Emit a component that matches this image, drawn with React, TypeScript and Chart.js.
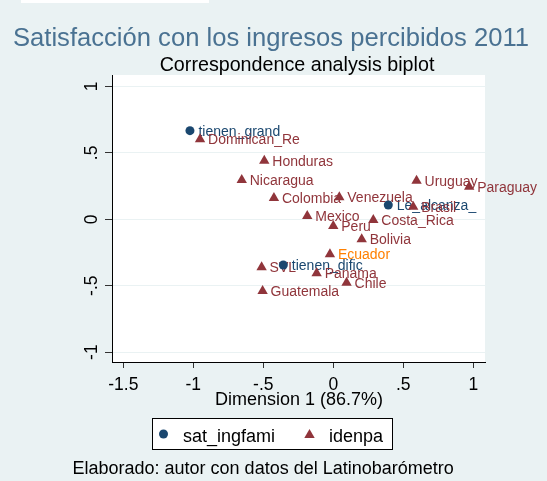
import React, { useEffect, useRef } from "react";
import { Chart, registerables } from "chart.js";

Chart.register(...registerables);

// ---- data ----
const rowLabels = ["tienen_grand", "Le_alcanza_", "tienen_dific"];
const rowDim1 = [-1.024, 0.393, -0.357];
const rowDim2 = [0.667, 0.108, -0.344];

const countryLabels = [
  "Dominican_Re", "Honduras", "Nicaragua", "Colombia", "Venezuela", "Uruguay",
  "Paraguay", "Brasil", "Mexico", "Peru", "Costa_Rica", "Bolivia", "Ecuador",
  "Panama", "Chile", "SVL", "Guatemala",
];
const countryDim1 = [
  -0.952, -0.493, -0.654, -0.424, 0.043, 0.595,
  0.971, 0.571, -0.186, 0.0, 0.286, 0.203, -0.024,
  -0.119, 0.095, -0.512, -0.505,
];
const countryDim2 = [
  0.602, 0.441, 0.296, 0.16, 0.166, 0.29,
  0.245, 0.095, 0.025, -0.05, -0.005, -0.15, -0.263,
  -0.406, -0.477, -0.361, -0.54,
];

const xTickValues = [-1.5, -1, -0.5, 0, 0.5, 1];
const xTickLabels = ["-1.5", "-1", "-.5", "0", ".5", "1"];
const yTickValues = [-1, -0.5, 0, 0.5, 1];
const yTickLabels = ["-1", "-.5", "0", ".5", "1"];

const seriesNames = ["sat_ingfami", "idenpa"];
const chartTitle = "Satisfacción con los ingresos percibidos 2011";
const chartSubtitle = "Correspondence analysis biplot";
const xAxisTitle = "Dimension 1 (86.7%)";
const footnote = "Elaborado: autor con datos del Latinobarómetro";
const highlightedCountry = "Ecuador";

// ---- styles ----
const FONT = '"Liberation Sans", Arial, Helvetica, sans-serif';
const BG = "#eaf2f3";
const NAVY = "#1a476f";
const MAROON = "#90353b";
const ORANGE = "#ff8000";
const TITLE_COLOR = "#4a7292";

function drawTriangle(ctx: CanvasRenderingContext2D, x: number, y: number, r: number) {
  ctx.beginPath();
  ctx.moveTo(x, y - r);
  ctx.lineTo(x + r * 0.866, y + r / 2);
  ctx.lineTo(x - r * 0.866, y + r / 2);
  ctx.closePath();
  ctx.fill();
}

const decorPlugin = {
  id: "decor",
  beforeDraw(chart: any) {
    const { ctx, chartArea: a, width, height } = chart;
    ctx.save();
    ctx.fillStyle = BG;
    ctx.fillRect(0, 0, width, height);
    ctx.fillStyle = "#ffffff";
    ctx.fillRect(21, 0, 188, 3);
    ctx.fillRect(a.left, a.top, a.right - a.left, a.bottom - a.top);
    ctx.restore();
  },
  beforeDatasetsDraw(chart: any) {
    // labels of the row points sit underneath all markers
    const { ctx } = chart;
    ctx.save();
    ctx.font = `14px ${FONT}`;
    ctx.textAlign = "left";
    ctx.textBaseline = "alphabetic";
    ctx.fillStyle = NAVY;
    const m0 = chart.getDatasetMeta(0);
    m0.data.forEach((pt: any, i: number) => {
      ctx.fillText(rowLabels[i], pt.x + 8.5, pt.y + 5);
    });
    ctx.restore();
  },
  afterDatasetDraw(chart: any, args: any) {
    if (args.index !== 1) return;
    const { ctx } = chart;
    ctx.save();
    ctx.font = `14px ${FONT}`;
    ctx.textAlign = "left";
    ctx.textBaseline = "alphabetic";
    const m1 = chart.getDatasetMeta(1);
    m1.data.forEach((pt: any, i: number) => {
      const lab = countryLabels[i];
      ctx.fillStyle = lab === highlightedCountry ? ORANGE : MAROON;
      ctx.fillText(lab, pt.x + 8, pt.y + 5);
    });
    ctx.restore();
  },
  afterDraw(chart: any) {
    const { ctx } = chart;
    const xs = chart.scales.x;
    const ys = chart.scales.y;
    ctx.save();

    // titles
    ctx.textBaseline = "alphabetic";
    ctx.textAlign = "center";
    ctx.fillStyle = TITLE_COLOR;
    ctx.font = `25.6px ${FONT}`;
    ctx.fillText(chartTitle, 271, 45.5);
    ctx.fillStyle = "#000";
    ctx.font = `19.7px ${FONT}`;
    ctx.fillText(chartSubtitle, 297, 70.5);

    // x tick labels
    ctx.font = `17.5px ${FONT}`;
    ctx.fillStyle = "#000";
    xTickValues.forEach((v, i) => {
      ctx.fillText(xTickLabels[i], xs.getPixelForValue(v), 390);
    });
    // y tick labels (rotated)
    yTickValues.forEach((v, i) => {
      ctx.save();
      ctx.translate(97, ys.getPixelForValue(v));
      ctx.rotate(-Math.PI / 2);
      ctx.textAlign = "center";
      ctx.fillText(yTickLabels[i], 0, 0);
      ctx.restore();
    });

    // x axis title
    ctx.font = `18px ${FONT}`;
    ctx.textAlign = "center";
    ctx.fillText(xAxisTitle, 299, 405);

    // legend
    ctx.fillStyle = "#ffffff";
    ctx.fillRect(152, 418, 241, 32);
    ctx.strokeStyle = "#000";
    ctx.lineWidth = 1;
    ctx.strokeRect(152.5, 418.5, 240, 31);
    ctx.fillStyle = NAVY;
    ctx.beginPath();
    ctx.arc(163.5, 434, 4.5, 0, Math.PI * 2);
    ctx.fill();
    ctx.fillStyle = MAROON;
    drawTriangle(ctx, 309.5, 435, 6);
    ctx.fillStyle = "#000";
    ctx.font = `18px ${FONT}`;
    ctx.textAlign = "left";
    ctx.fillText(seriesNames[0], 183, 441.5);
    ctx.fillText(seriesNames[1], 329, 441.5);

    // footnote
    ctx.fillText(footnote, 72.5, 474);

    ctx.restore();
  },
};

export default function App() {
  const ref = useRef<HTMLCanvasElement | null>(null);
  useEffect(() => {
    document.body.style.margin = "0";
    const canvas = ref.current;
    if (!canvas) return;
    const chart = new Chart(canvas, {
      type: "scatter",
      data: {
        datasets: [
          {
            label: seriesNames[0],
            data: rowDim1.map((x, i) => ({ x, y: rowDim2[i] })),
            pointStyle: "circle",
            pointRadius: 4.5,
            pointBackgroundColor: NAVY,
            pointBorderWidth: 0,
            borderColor: NAVY,
            backgroundColor: NAVY,
          },
          {
            label: seriesNames[1],
            data: countryDim1.map((x, i) => ({ x, y: countryDim2[i] })),
            pointStyle: "triangle",
            pointRadius: 6,
            pointBackgroundColor: MAROON,
            pointBorderWidth: 0,
            borderColor: MAROON,
            backgroundColor: MAROON,
          },
        ],
      },
      options: {
        responsive: false,
        animation: false,
        devicePixelRatio: 1,
        layout: { padding: { left: 0, top: 75, right: 62, bottom: 109 } },
        plugins: {
          legend: { display: false },
          title: { display: false },
          tooltip: { enabled: false },
        },
        scales: {
          x: {
            type: "linear",
            min: -1.581,
            max: 1.084,
            afterBuildTicks: (s: any) => {
              s.ticks = xTickValues.map((value) => ({ value }));
            },
            afterFit: (s: any) => {
              s.height = 10;
            },
            ticks: { display: false },
            grid: {
              drawOnChartArea: false,
              drawTicks: true,
              tickLength: 6,
              tickColor: "#333",
            },
            border: { display: true, color: "#000", width: 1 },
          },
          y: {
            type: "linear",
            min: -1.074,
            max: 1.086,
            afterBuildTicks: (s: any) => {
              s.ticks = yTickValues.map((value) => ({ value }));
            },
            afterFit: (s: any) => {
              s.width = 112;
            },
            ticks: { display: false },
            grid: {
              color: BG,
              drawOnChartArea: true,
              drawTicks: true,
              tickLength: 7,
              tickColor: "#333",
            },
            border: { display: true, color: "#000", width: 1 },
          },
        },
      },
      plugins: [decorPlugin],
    } as any);
    return () => chart.destroy();
  }, []);
  return (
    <div style={{ width: 547, height: 481 }}>
      <canvas ref={ref} width={547} height={481} style={{ display: "block" }} />
    </div>
  );
}
